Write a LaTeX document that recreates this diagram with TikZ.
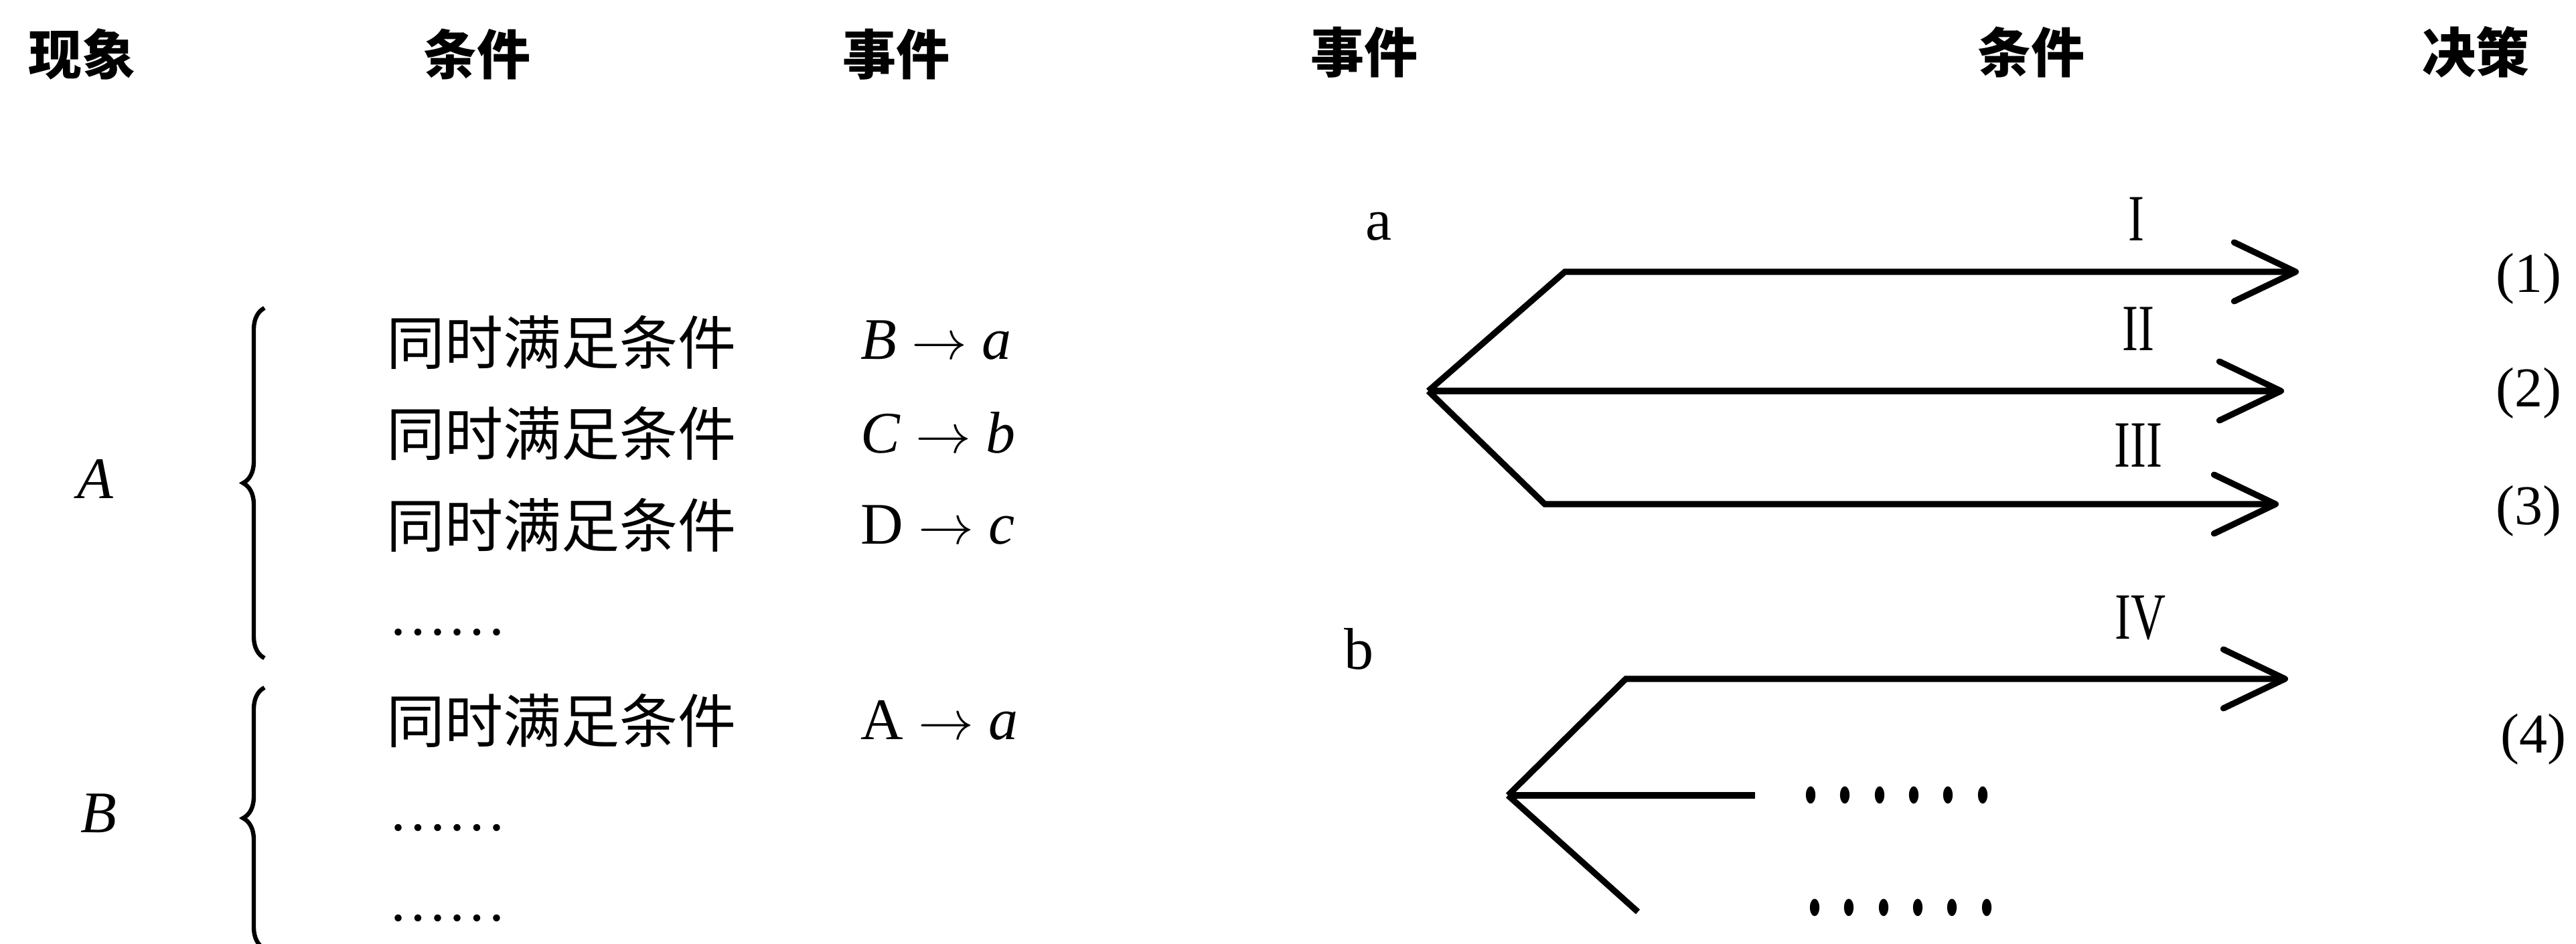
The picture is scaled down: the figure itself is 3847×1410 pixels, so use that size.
\documentclass[tikz,border=0pt]{standalone}
\usepackage{graphicx}
\usepackage{fontspec}
\setmainfont{Liberation Serif}
\newfontfamily\cjk{Noto Sans CJK SC}
\usetikzlibrary{arrows.meta,decorations.pathreplacing}
\begin{document}
\begin{tikzpicture}[x=0.25pt,y=-0.25pt,
  hdr/.style={font=\cjk\bfseries\fontsize{20pt}{24pt}\selectfont,inner sep=0pt},
  row/.style={font=\cjk\fontsize{21.75pt}{24pt}\selectfont,inner sep=0pt,anchor=west},
  lat/.style={font=\fontsize{22pt}{26pt}\selectfont,inner sep=0pt},
  num/.style={font=\fontsize{18pt}{22pt}\selectfont,inner sep=0pt},
  lbl/.style={font=\fontsize{21pt}{25pt}\selectfont,inner sep=0pt},
  conn/.style={line width=2.3pt,-{Straight Barb[length=23pt,width=22pt,round]}},
  seg/.style={line width=2.3pt},
  brc/.style={line width=1.6pt,decorate,decoration={brace,amplitude=8pt}}
]
\useasboundingbox (0,0) rectangle (3847,1410);

% headers
\node[hdr] (h1) at (122,81) {现象};
\node[hdr] (h2) at (712,81) {条件};
\node[hdr] (h3) at (1338,81) {事件};
\node[hdr] (h4) at (2037,78) {事件};
\node[hdr] (h5) at (3033,78) {条件};
\node[hdr] (h6) at (3697,78) {决策};

% left part
\node[lat] (A) at (143,715) {\textit{A}};
\node[lat] (B) at (147,1215) {\textit{B}};
\draw[brc] (395,983) -- (395,460);
\draw[brc] (395,1417) -- (395,1027);

\node[row] (r1) at (577,511) {同时满足条件};
\node[row] (r2) at (577,647) {同时满足条件};
\node[row] (r3) at (577,784) {同时满足条件};
\node[lat,anchor=west] (r4) at (580,945) {……};
\node[row] (r5) at (577,1076) {同时满足条件};
\node[lat,anchor=west] (r6) at (580,1237) {……};
\node[lat,anchor=west] (r7) at (580,1372) {……};

\node[lat,anchor=west] (m1) at (1285,508) {\textit{B} $\rightarrow$ \textit{a}};
\node[lat,anchor=west] (m2) at (1285,646) {\textit{C} $\rightarrow$ \textit{b}};
\node[lat,anchor=west] (m3) at (1285,784) {D $\rightarrow$ \textit{c}};
\node[lat,anchor=west] (m5) at (1285,1076) {A $\rightarrow$ \textit{a}};

% right part
\node[lat] (la) at (2059,338) {a};
\node[lat] (lb) at (2029,969) {b};

\node[num] (n1) at (3190,327) {\scalebox{1}[1.37]{I}};
\node[num] (n2) at (3193,491) {\scalebox{1}[1.37]{II}};
\node[num] (n3) at (3193,665) {\scalebox{1}[1.37]{III}};
\node[num] (n4) at (3196,923) {\scalebox{1}[1.37]{IV}};

\node[lbl] (d1) at (3776,416) {(1)};
\node[lbl] (d2) at (3776,587) {(2)};
\node[lbl] (d3) at (3776,763) {(3)};
\node[lbl] (d4) at (3783,1104) {(4)};

\coordinate (apA) at (2133,584);
\coordinate (s1) at (2337,406);
\coordinate (e1) at (3433,406);
\coordinate (e2) at (3411,584);
\coordinate (s3) at (2307,753);
\coordinate (e3) at (3403,753);
\coordinate (apB) at (2252,1188);
\coordinate (s4) at (2428,1014);
\coordinate (e4) at (3417,1014);
\coordinate (hb) at (2621,1188);
\coordinate (lo) at (2446,1362);

\draw[conn] (apA) -- (s1) -- (e1);
\draw[conn] (apA) -- (e2);
\draw[conn] (apA) -- (s3) -- (e3);
\draw[conn] (apB) -- (s4) -- (e4);
\draw[seg] (apB) -- (hb);
\draw[seg] (apB) -- (lo);

\node[lat] (dt1) at (2833,1188) {\bfseries\scalebox{1}[1.8]{. . . . . .}};
\node[lat] (dt2) at (2839,1356) {\bfseries\scalebox{1}[1.8]{. . . . . .}};
\end{tikzpicture}
\end{document}
